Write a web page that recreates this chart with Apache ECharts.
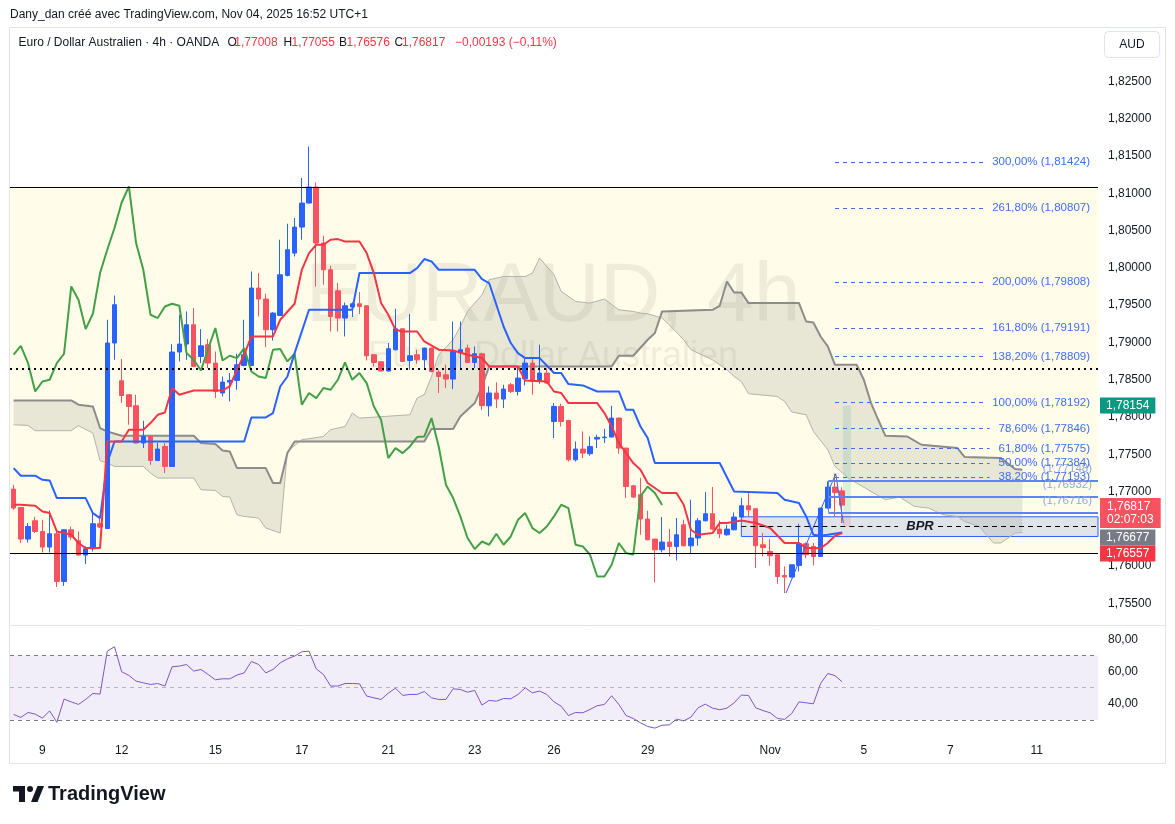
<!DOCTYPE html>
<html><head><meta charset="utf-8">
<script src="https://cdn.jsdelivr.net/npm/echarts@6/dist/echarts.min.js"></script>
<style>html,body{margin:0;padding:0;background:#fff;}#c{width:1175px;height:824px;}</style>
</head><body><div id="c"></div>
<script>
// ---------- data ----------
const N = 151; // bar slots incl. future space
const dateTickIndex = [4, 15, 28, 40, 52, 64, 75, 88, 105, 118, 130, 142];
const dateTickText  = ['9', '12', '15', '17', '21', '23', '26', '29', 'Nov', '5', '7', '11'];
const priceTicks = [1.755, 1.76, 1.77, 1.775, 1.78, 1.785, 1.79, 1.795, 1.80, 1.805, 1.81, 1.815, 1.82, 1.825];
const rsiTicks = [40, 60, 80];

const opens = [1.77032,1.76785,1.76361,1.76607,1.76463,1.76254,1.76432,1.75792,1.76486,1.76338,
1.76146,1.76231,1.76567,1.76503,1.78992,1.78486,1.78298,1.78150,1.77650,1.77738,
1.77416,1.77604,1.77336,1.78871,1.78978,1.79237,1.78812,1.78969,1.78723,1.78321,
1.78468,1.78490,1.78691,1.78691,1.79730,1.79582,1.79170,1.79362,1.79899,1.80199,
1.80548,1.80870,1.81085,1.80334,1.79975,1.79693,1.79327,1.79475,1.79519,1.79492,
1.78835,1.78741,1.78616,1.78902,1.79183,1.78758,1.78835,1.78767,1.78924,1.78602,
1.78566,1.78508,1.78865,1.78924,1.78731,1.78848,1.78150,1.78321,1.78240,1.78432,
1.78342,1.78512,1.78723,1.78490,1.78589,1.77939,1.78141,1.77953,1.77425,1.77569,
1.77506,1.77703,1.77721,1.77730,1.77985,1.77582,1.77076,1.76956,1.76630,1.76361,
1.76218,1.76321,1.76262,1.76553,1.76271,1.76375,1.76607,1.76701,1.76495,1.76419,
1.76486,1.76656,1.76808,1.76768,1.76285,1.76195,1.76151,1.75873,1.75851,1.76007,
1.76298,1.76262,1.76128,1.76777,1.77059,1.77008];
const closes = [1.76777,1.76361,1.76530,1.76463,1.76254,1.76432,1.75792,1.76486,1.76388,1.76146,
1.76231,1.76567,1.76522,1.78992,1.79506,1.78288,1.78141,1.77650,1.77738,1.77416,
1.77569,1.77336,1.78871,1.78978,1.79237,1.78678,1.78955,1.78723,1.78342,1.78468,
1.78490,1.78700,1.78835,1.79730,1.79582,1.79170,1.79394,1.79908,1.80244,1.80548,
1.80870,1.81085,1.80334,1.79975,1.79349,1.79327,1.79492,1.79519,1.79483,1.78821,
1.78731,1.78616,1.78915,1.79183,1.78745,1.78821,1.78767,1.78924,1.78610,1.78543,
1.78508,1.78879,1.78902,1.78731,1.78848,1.78154,1.78321,1.78240,1.78374,1.78342,
1.78522,1.78723,1.78476,1.78589,1.78455,1.78141,1.77939,1.77425,1.77569,1.77515,
1.77604,1.77725,1.77730,1.77985,1.77582,1.77067,1.76925,1.76630,1.76352,1.76218,
1.76321,1.76262,1.76419,1.76271,1.76375,1.76607,1.76701,1.76495,1.76432,1.76495,
1.76656,1.76808,1.76754,1.76271,1.76249,1.76137,1.75859,1.75851,1.76016,1.76298,
1.76151,1.76128,1.76777,1.77059,1.76987,1.76817];
const lows = [1.76754,1.76308,1.76316,1.76442,1.76181,1.76181,1.75717,1.75734,1.76352,1.76137,
1.76026,1.76195,1.76509,1.76495,1.78767,1.78186,1.77895,1.77645,1.77582,1.77358,
1.77410,1.77247,1.77330,1.78745,1.78767,1.78670,1.78723,1.78656,1.78253,1.78275,
1.78208,1.78365,1.78678,1.78685,1.79349,1.78938,1.79026,1.79355,1.79886,1.80154,
1.80378,1.80865,1.79751,1.79774,1.79147,1.79147,1.79080,1.79340,1.79381,1.78758,
1.78678,1.78610,1.78610,1.78892,1.78740,1.78633,1.78714,1.78633,1.78597,1.78321,
1.78388,1.78374,1.78633,1.78725,1.78656,1.78096,1.78007,1.78119,1.78119,1.78321,
1.78288,1.78423,1.78298,1.78445,1.78445,1.77717,1.77872,1.77403,1.77403,1.77448,
1.77479,1.77582,1.77650,1.77725,1.77506,1.76911,1.76911,1.76419,1.76345,1.75779,
1.76181,1.76128,1.76074,1.76265,1.76164,1.76271,1.76597,1.76477,1.76375,1.76405,
1.76477,1.76650,1.76656,1.75972,1.76128,1.76003,1.75761,1.75637,1.75845,1.75926,
1.76106,1.76007,1.76125,1.76770,1.76665,1.76576];
const highs = [1.77090,1.76790,1.76576,1.76656,1.76620,1.76745,1.76463,1.76490,1.76530,1.76463,
1.76262,1.76710,1.76665,1.79304,1.79630,1.78777,1.78300,1.78298,1.77949,1.77740,
1.77650,1.77650,1.78978,1.79371,1.79416,1.79461,1.79179,1.79045,1.78879,1.78543,
1.78589,1.78848,1.79304,1.79952,1.79931,1.79653,1.79407,1.80378,1.80593,1.80669,
1.81206,1.81630,1.81147,1.80432,1.80029,1.79797,1.79536,1.79536,1.79676,1.79495,
1.78840,1.78745,1.78992,1.79452,1.79185,1.79381,1.78902,1.78930,1.78930,1.78633,
1.78700,1.79281,1.79281,1.78969,1.78946,1.78865,1.78409,1.78463,1.78432,1.78455,
1.78678,1.78781,1.78777,1.78969,1.78656,1.78186,1.78177,1.77962,1.77671,1.77805,
1.77738,1.77761,1.77841,1.78150,1.77990,1.77585,1.77090,1.77180,1.76741,1.76365,
1.76656,1.76495,1.76643,1.76620,1.76889,1.76643,1.76992,1.77059,1.76611,1.76553,
1.76718,1.76911,1.76979,1.76770,1.76442,1.76361,1.76155,1.75994,1.76020,1.76567,
1.76316,1.76308,1.76780,1.77134,1.77238,1.77055];

const tenkan = [[0,1.76822],[1,1.76822],[3,1.76808],[4,1.76732],[5,1.76710],[6,1.76463],[7,1.76442],[8,1.76419],[9,1.76308],[10,1.76240],[12,1.76240],[13,1.77671],[15,1.77671],[16,1.77828],[18,1.77828],[19,1.77918],[20,1.78029],[21,1.78060],[22,1.78388],[23,1.78298],[25,1.78355],[29,1.78355],[30,1.78409],[31,1.78633],[32,1.78835],[33,1.79080],[36,1.79080],[37,1.79304],[39,1.79519],[40,1.79975],[41,1.80199],[42,1.80311],[43,1.80311],[44,1.80378],[45,1.80387],[46,1.80355],[48,1.80355],[49,1.80199],[50,1.79931],[51,1.79528],[52,1.79371],[53,1.79170],[54,1.79147],[56,1.79147],[57,1.79013],[59,1.78902],[61,1.78892],[63,1.78835],[65,1.78790],[66,1.78678],[70,1.78678],[71,1.78490],[74,1.78476],[75,1.78342],[76,1.78321],[77,1.78186],[81,1.78186],[82,1.78052],[83,1.77872],[84,1.77650],[86,1.77381],[87,1.77291],[88,1.77113],[90,1.76979],[92,1.76979],[93,1.76822],[94,1.76486],[95,1.76419],[97,1.76442],[98,1.76576],[99,1.76576],[101,1.76611],[103,1.76576],[105,1.76509],[107,1.76308],[109,1.76308],[110,1.76240],[112,1.76240],[113,1.76308],[114,1.76405],[115,1.76442]];
const kijun = [[0,1.77314],[1,1.77211],[3,1.77211],[4,1.77157],[5,1.77148],[6,1.76911],[10,1.76911],[11,1.76710],[12,1.76643],[13,1.77385],[14,1.77671],[32,1.77671],[33,1.77993],[35,1.77993],[36,1.78052],[37,1.78409],[38,1.78543],[39,1.78857],[41,1.79438],[47,1.79438],[48,1.79931],[55,1.79931],[56,1.79998],[57,1.80119],[58,1.80087],[59,1.79975],[64,1.79975],[65,1.79850],[66,1.79797],[67,1.79506],[68,1.79214],[69,1.78992],[70,1.78857],[71,1.78790],[73,1.78790],[75,1.78589],[76,1.78589],[77,1.78441],[79,1.78423],[81,1.78342],[84,1.78342],[85,1.78096],[86,1.78096],[87,1.77872],[88,1.77717],[89,1.77381],[98,1.77381],[100,1.77000],[106,1.76979],[107,1.76889],[109,1.76844],[110,1.76665],[111,1.76419],[112,1.76405],[113,1.76419],[115,1.76450]];
const chikou = [[0,1.78835],[1,1.78955],[2,1.78723],[3,1.78342],[4,1.78476],[5,1.78499],[6,1.78723],[7,1.78848],[8,1.79751],[9,1.79573],[10,1.79179],[11,1.79385],[12,1.79931],[13,1.80244],[14,1.80535],[15,1.80878],[16,1.81093],[17,1.80334],[18,1.79975],[19,1.79371],[20,1.79327],[21,1.79483],[22,1.79519],[23,1.79492],[24,1.78857],[25,1.78767],[26,1.78624],[27,1.78915],[28,1.79193],[29,1.78758],[30,1.78821],[31,1.78790],[32,1.78924],[33,1.78610],[34,1.78543],[35,1.78522],[36,1.78902],[37,1.78911],[38,1.78745],[39,1.78848],[40,1.78164],[41,1.78321],[42,1.78253],[43,1.78388],[44,1.78365],[45,1.78499],[46,1.78731],[47,1.78499],[48,1.78589],[49,1.78455],[50,1.78141],[51,1.77962],[52,1.77448],[53,1.77582],[54,1.77515],[55,1.77604],[56,1.77730],[57,1.77738],[58,1.77985],[59,1.77604],[60,1.77090],[61,1.76911],[62,1.76665],[63,1.76375],[64,1.76227],[65,1.76329],[66,1.76285],[67,1.76432],[68,1.76285],[69,1.76396],[70,1.76620],[71,1.76710],[72,1.76509],[73,1.76442],[74,1.76530],[75,1.76665],[76,1.76822],[77,1.76777],[78,1.76285],[79,1.76262],[80,1.76151],[81,1.75859],[82,1.75859],[83,1.76016],[84,1.76308],[85,1.76173],[86,1.76151],[87,1.76933],[88,1.77067],[89,1.76979],[90,1.76817]];
const senkouA = [[0,1.77895],[2,1.77886],[3,1.77815],[8,1.77815],[9,1.77882],[11,1.77784],[12,1.77412],[13,1.77381],[14,1.77336],[18,1.77336],[19,1.77247],[20,1.77180],[25,1.77180],[26,1.77023],[28,1.77013],[29,1.76933],[30,1.76925],[31,1.76687],[32,1.76665],[34,1.76643],[35,1.76509],[37,1.76442],[38,1.77537],[40,1.77694],[43,1.77738],[44,1.77828],[45,1.77851],[46,1.77872],[47,1.78052],[48,1.77985],[55,1.78029],[56,1.78253],[57,1.78298],[58,1.78543],[59,1.78835],[61,1.79036],[62,1.79214],[63,1.79416],[65,1.79640],[66,1.79841],[68,1.79885],[71,1.79885],[72,1.79931],[73,1.80132],[75,1.79908],[76,1.79684],[78,1.79550],[80,1.79528],[82,1.79582],[84,1.79438],[86,1.79416],[87,1.79394],[88,1.79385],[90,1.79327],[91,1.79237],[93,1.79036],[94,1.78902],[97,1.78767],[99,1.78633],[100,1.78543],[101,1.78476],[102,1.78311],[106,1.78275],[107,1.78208],[108,1.78066],[110,1.78029],[111,1.77805],[113,1.77560],[114,1.77336],[116,1.77166],[117,1.77113],[119,1.77000],[121,1.76889],[123,1.76925],[125,1.76799],[127,1.76777],[129,1.76687],[131,1.76665],[132,1.76597],[134,1.76530],[136,1.76308],[137,1.76308],[139,1.76442],[140,1.76450]];
const senkouB = [[0,1.78221],[8,1.78221],[9,1.78164],[11,1.78141],[12,1.77851],[13,1.77805],[15,1.77747],[25,1.77747],[26,1.77650],[28,1.77636],[29,1.77550],[30,1.77537],[31,1.77314],[35,1.77314],[36,1.77113],[37,1.77113],[38,1.77515],[39,1.77671],[57,1.77671],[58,1.77837],[61,1.77837],[62,1.78007],[64,1.78186],[65,1.78409],[66,1.78678],[83,1.78678],[84,1.78821],[86,1.78821],[88,1.79036],[89,1.79126],[90,1.79416],[97,1.79438],[98,1.79492],[99,1.79818],[100,1.79671],[101,1.79671],[102,1.79528],[109,1.79528],[110,1.79281],[111,1.79268],[112,1.79080],[113,1.78946],[114,1.78700],[117,1.78700],[118,1.78499],[119,1.78186],[120,1.77962],[121,1.77747],[124,1.77738],[126,1.77627],[131,1.77582],[132,1.77462],[137,1.77448],[139,1.77301],[140,1.77291]];
const zigzag = [[107.2,1.75637],[114.1,1.77238],[115.15,1.76576]];

const rsi = [33.4,31.5,34.6,33.6,31.1,35.6,28.5,42.9,41.2,39.6,
42.7,46.4,46.0,72.7,75.4,59.9,57.6,54.1,53.0,52.0,
52.6,51.0,63.0,63.4,64.4,60.3,61.3,58.2,54.9,55.5,
55.5,57.8,59.2,66.3,64.4,59.2,61.3,65.4,67.9,69.6,
72.3,72.7,61.7,58.2,51.0,51.0,52.6,52.6,52.4,44.8,
43.7,42.7,46.6,49.7,45.2,45.8,45.8,47.6,43.7,42.7,
42.7,49.3,48.9,47.2,48.3,39.2,42.1,41.6,43.3,43.1,
45.8,49.9,46.8,47.9,45.8,41.2,38.5,32.7,34.6,34.4,
36.5,38.8,39.6,45.0,39.6,32.7,30.9,28.2,25.9,24.9,
26.7,26.9,30.5,29.4,31.7,37.5,39.8,37.3,36.3,37.3,
40.6,45.4,45.2,37.5,35.8,34.4,30.9,30.3,34.0,41.2,
40.6,40.0,52.6,58.8,57.5,53.6];

const fibText = ['300,00% (1,81424)','261,80% (1,80807)','200,00% (1,79808)','161,80% (1,79191)','138,20% (1,78809)','100,00% (1,78192)','78,60% (1,77846)','61,80% (1,77575)','50,00% (1,77384)','38,20% (1,77193)'];
const fibValues = [1.81424,1.80807,1.79808,1.79191,1.78809,1.78192,1.77846,1.77575,1.77384,1.77193];
const rangeTop = 1.81085, rangeBottom = 1.76173, dottedLevel = 1.78643;
const bprTop = 1.76660, bprBottom = 1.76396, bprMid = 1.76530;
const boxLevels = [1.77148, 1.76932, 1.76716];
const boxText = ['(1,77148)', '(1,76932)', '(1,76716)'];
const tagValues = [1.78154, 1.76817, 1.76677, 1.76557];
const tagText = ['1,78154', '1,76817\n02:07:03', '1,76677', '1,76557'];
const tagColors = ['#089981', '#f7525f', '#787b86', '#f23645'];
const tagShift = [0, 8, 22, 29];

// ---------- layout helpers ----------
const FONT = '"Liberation Sans", Arial, sans-serif';
const plotL = 10, plotW = 1088, slot = plotW / N;
const xToIdx = x => (x - plotL) / slot - 0.5;
const categories = Array.from({length: N}, (_, i) => {
  const k = dateTickIndex.indexOf(i); return k >= 0 ? dateTickText[k] : '';
});
const fmtP = v => v.toFixed(5).replace('.', ',');
const mctx = document.createElement('canvas').getContext('2d');
mctx.font = '11.5px ' + FONT;

const fibStart = xToIdx(835);
const fibLines = fibValues.map((v, k) => {
  const w = mctx.measureText(fibText[k]).width;
  return [{coord: [fibStart, v], label: {formatter: fibText[k]}}, {coord: [xToIdx(1090 - w - 9), v]}];
});
const boxStart = 113.1, bprStart = 101;

const chart = echarts.init(document.getElementById('c'), null, {width: 1175, height: 824});
const txt = (text, x, y, opts) => Object.assign({type: 'text', silent: true, z: 50,
  style: Object.assign({text, x, y, fill: '#131722', font: '12px ' + FONT, textVerticalAlign: 'middle', verticalAlign: 'middle'}, opts || {})});
const NUMF = '12px ' + FONT, RED = '#f23645';

chart.setOption({
  animation: false,
  backgroundColor: '#ffffff',
  grid: [
    {left: 10, right: 77, top: 27, height: 598},
    {left: 10, right: 77, top: 626, height: 110}
  ],
  xAxis: [
    {type: 'category', gridIndex: 0, data: categories, show: false, boundaryGap: true},
    {type: 'value', gridIndex: 0, min: -0.5, max: N - 0.5, show: false},
    {type: 'category', gridIndex: 1, data: categories, boundaryGap: true,
      axisLine: {show: false}, axisTick: {show: false}, splitLine: {show: false},
      axisLabel: {interval: (i, v) => v !== '', color: '#131722', fontSize: 12, fontFamily: FONT, margin: 9}}
  ],
  yAxis: [
    {type: 'value', gridIndex: 0, position: 'right', min: 1.75208, max: 1.83233,
      splitLine: {show: false}, axisLine: {show: false}, axisTick: {show: false},
      axisLabel: {customValues: priceTicks, formatter: fmtP, color: '#131722', fontSize: 12, fontFamily: FONT, margin: 10}},
    {type: 'value', gridIndex: 1, position: 'right', min: 20, max: 88.3,
      splitLine: {show: false}, axisLine: {show: false}, axisTick: {show: false},
      axisLabel: {customValues: rsiTicks, formatter: v => v.toFixed(2).replace('.', ','), color: '#131722', fontSize: 12, fontFamily: FONT, margin: 10}}
  ],
  graphic: [
    {type: 'rect', silent: true, z: 50, shape: {x: 9.5, y: 27.5, width: 1156, height: 736}, style: {fill: 'none', stroke: '#e0e3eb', lineWidth: 1}},
    {type: 'line', silent: true, z: 50, shape: {x1: 9.5, y1: 625.5, x2: 1165.5, y2: 625.5}, style: {stroke: '#e0e3eb', lineWidth: 1}},
    {type: 'text', silent: true, z: 1.5, style: {text: 'EURAUD, 4h', x: 553, y: 298, fill: 'rgba(40,40,30,0.075)', font: '84px ' + FONT, textAlign: 'center', align: 'center', textVerticalAlign: 'middle', verticalAlign: 'middle'}},
    {type: 'text', silent: true, z: 1.5, style: {text: 'Euro / Dollar Australien', x: 553, y: 357, fill: 'rgba(40,40,30,0.075)', font: '36px ' + FONT, textAlign: 'center', align: 'center', textVerticalAlign: 'middle', verticalAlign: 'middle'}},
    txt('Dany_dan créé avec TradingView.com, Nov 04, 2025 16:52 UTC+1', 10, 15),
    txt('Euro / Dollar Australien · 4h · OANDA', 18.5, 42.5),
    txt('O', 227.5, 42.5), txt('1,77008', 234.3, 42.5, {fill: RED, font: NUMF}),
    txt('H', 283.5, 42.5), txt('1,77055', 291.5, 42.5, {fill: RED, font: NUMF}),
    txt('B', 339, 42.5), txt('1,76576', 346.5, 42.5, {fill: RED, font: NUMF}),
    txt('C', 394.5, 42.5), txt('1,76817', 402, 42.5, {fill: RED, font: NUMF}),
    txt('\u22120,00193 (\u22120,11%)', 455, 42.5, {fill: RED, font: NUMF}),
    {type: 'rect', silent: true, z: 50, shape: {x: 1104.5, y: 31.5, width: 55, height: 26, r: 4}, style: {fill: '#fff', stroke: '#e0e3eb', lineWidth: 1}},
    txt('AUD', 1132, 44.5, {textAlign: 'center', align: 'center'}),
    {type: 'rect', silent: true, z: 50, shape: {x: 13, y: 786, width: 12, height: 5.5}, style: {fill: '#131722'}},
    {type: 'rect', silent: true, z: 50, shape: {x: 19, y: 786, width: 6, height: 16}, style: {fill: '#131722'}},
    {type: 'circle', silent: true, z: 50, shape: {cx: 30, cy: 789, r: 3}, style: {fill: '#131722'}},
    {type: 'polygon', silent: true, z: 50, shape: {points: [[31, 802], [37.5, 786], [44, 786], [37.5, 802]]}, style: {fill: '#131722'}},
    txt('TradingView', 48, 794, {font: 'bold 20px ' + FONT})
  ],
  series: [
    { // range box, borders, dotted level
      type: 'line', xAxisIndex: 1, yAxisIndex: 0, z: 0, silent: true, data: [[0, 1.78]],
      symbol: 'none', lineStyle: {width: 0},
      markArea: {silent: true, z: 0, itemStyle: {color: '#fffdea'}, data: [[{coord: [-0.5, rangeTop]}, {coord: [N - 0.5, rangeBottom]}]]},
      markLine: {silent: true, precision: 6, symbol: ['none', 'none'], label: {show: false},
        lineStyle: {color: '#000', width: 1, type: 'solid'},
        data: [{yAxis: rangeTop}, {yAxis: rangeBottom},
          {yAxis: dottedLevel, lineStyle: {type: [2, 4], width: 2, color: '#000'}}]}
    },
    { // kumo cloud
      type: 'custom', xAxisIndex: 1, yAxisIndex: 0, z: 2, silent: true, data: [[0, 1.78]],
      renderItem: function (params, api) {
        const pts = senkouA.map(p => api.coord(p));
        for (let k = senkouB.length - 1; k >= 0; k--) pts.push(api.coord(senkouB[k]));
        return {type: 'polygon', shape: {points: pts}, style: {fill: 'rgba(150,150,140,0.22)'}};
      }
    },
    {type: 'line', name: 'Senkou A', xAxisIndex: 1, yAxisIndex: 0, z: 2, data: senkouA, symbol: 'none', silent: true,
      lineStyle: {color: '#b3b3ad', width: 1}},
    {type: 'line', name: 'Senkou B', xAxisIndex: 1, yAxisIndex: 0, z: 2, data: senkouB, symbol: 'none', silent: true,
      lineStyle: {color: '#8c8c8a', width: 2}},
    { // BPR box, position tool, upper box lines
      type: 'line', xAxisIndex: 1, yAxisIndex: 0, z: 2, silent: true, data: [[0, 1.78]], symbol: 'none', lineStyle: {width: 0},
      markArea: {silent: true, z: 2, data: [
        [{coord: [bprStart, bprTop], itemStyle: {color: 'rgba(60,100,230,0.16)', borderColor: '#2962ff', borderWidth: 1}}, {coord: [N - 0.5, bprBottom]}],
        [{coord: [115.1, 1.78150], itemStyle: {color: 'rgba(8,153,129,0.14)'}}, {coord: [116.2, 1.76665]}],
        [{coord: [115.1, 1.76665], itemStyle: {color: 'rgba(242,54,69,0.14)'}}, {coord: [116.2, 1.76530]}]
      ]},
      markLine: {silent: true, precision: 6, symbol: ['none', 'none'],
        lineStyle: {color: '#5b84f5', width: 2, type: 'solid'},
        label: {show: true, position: 'insideEndTop', color: '#8fa6f3', fontSize: 11.5, fontFamily: FONT, distance: 6},
        data: boxLevels.map((v, k) => [{coord: [boxStart, v], label: {formatter: boxText[k]}}, {coord: [N - 0.5, v]}]).concat([
          [{coord: [boxStart, boxLevels[0]], lineStyle: {width: 1}, label: {show: false}}, {coord: [boxStart, boxLevels[2]]}],
          [{coord: [bprStart, bprMid], lineStyle: {type: [5, 4], color: '#000', width: 1}, label: {show: false}}, {coord: [xToIdx(898), bprMid]}],
          [{coord: [xToIdx(938), bprMid], lineStyle: {type: [5, 4], color: '#000', width: 1}, label: {show: false}}, {coord: [N - 0.5, bprMid]}]
        ])},
      markPoint: {silent: true, symbol: 'rect', symbolSize: [1, 1], itemStyle: {color: 'rgba(0,0,0,0)'},
        label: {show: true, position: 'inside', formatter: 'BPR', color: '#131722', fontSize: 13, fontWeight: 'bold', fontStyle: 'italic', fontFamily: FONT},
        data: [{coord: [xToIdx(920), bprMid]}]}
    },
    {
      type: 'candlestick', xAxisIndex: 0, yAxisIndex: 0, z: 3, barWidth: 5,
      data: opens.map((o, i) => [o, closes[i], lows[i], highs[i]]),
      itemStyle: {color: '#2962ff', color0: '#f7525f', borderColor: '#2962ff', borderColor0: '#f7525f', borderWidth: 1}
    },
    {type: 'line', name: 'Chikou', xAxisIndex: 1, yAxisIndex: 0, z: 4, data: chikou, symbol: 'none', silent: true, lineStyle: {color: '#43a047', width: 2}},
    {type: 'line', name: 'Kijun', xAxisIndex: 1, yAxisIndex: 0, z: 4, data: kijun, symbol: 'none', silent: true, lineStyle: {color: '#2962ff', width: 2}},
    {type: 'line', name: 'Tenkan', xAxisIndex: 1, yAxisIndex: 0, z: 4, data: tenkan, symbol: 'none', silent: true, lineStyle: {color: '#f23645', width: 2}},
    {type: 'line', name: 'Zigzag', xAxisIndex: 1, yAxisIndex: 0, z: 4, data: zigzag, symbol: 'none', silent: true, lineStyle: {color: '#2962ff', width: 1}},
    { // fibonacci
      type: 'line', xAxisIndex: 1, yAxisIndex: 0, z: 4, silent: true, data: [[0, 1.78]], symbol: 'none', lineStyle: {width: 0},
      markLine: {silent: true, precision: 6, symbol: ['none', 'none'],
        lineStyle: {color: '#3b6cf4', width: 1, type: [4, 4]},
        label: {show: true, position: 'end', distance: 9, color: '#3f6ef2', fontSize: 11.5, fontFamily: FONT},
        data: fibLines}
    },
    { // price tags on the axis
      type: 'line', xAxisIndex: 1, yAxisIndex: 0, z: 6, silent: true, data: [[0, 1.78]], symbol: 'none', lineStyle: {width: 0},
      markLine: {silent: true, precision: 6, symbol: ['none', 'none'],
        lineStyle: {color: 'rgba(0,0,0,0)', width: 1, type: 'solid'},
        label: {show: true, position: 'end'},
        data: tagValues.map((v, k) => ({yAxis: v, label: {show: true, position: 'end', distance: 2, formatter: tagText[k],
          backgroundColor: tagColors[k], color: '#ffffff', fontSize: 12, fontFamily: FONT, lineHeight: 13,
          padding: k === 1 ? [2, 7, 2, 7] : [2, 6, 1, 6], offset: [0, tagShift[k]]}}))}
    },
    { // RSI
      type: 'line', name: 'RSI', xAxisIndex: 2, yAxisIndex: 1, z: 3, data: rsi, symbol: 'none', silent: true,
      lineStyle: {color: '#7e57c2', width: 1},
      markArea: {silent: true, itemStyle: {color: 'rgba(126,87,194,0.1)'}, data: [[{yAxis: 70}, {yAxis: 30}]]},
      markLine: {silent: true, symbol: ['none', 'none'], label: {show: false},
        lineStyle: {color: '#787b86', width: 1, type: [4, 4]},
        data: [{yAxis: 70}, {yAxis: 50, lineStyle: {color: 'rgba(120,123,134,0.5)', type: [4, 4]}}, {yAxis: 30}]}
    }
  ]
});
</script>
</body></html>
